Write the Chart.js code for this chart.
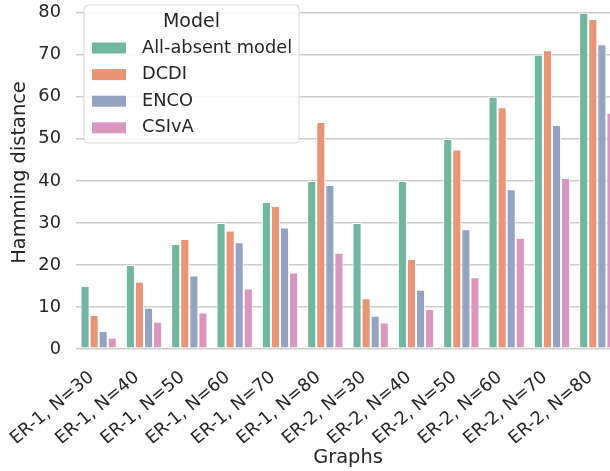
<!DOCTYPE html>
<html>
<head>
<meta charset="utf-8">
<script src="https://cdn.jsdelivr.net/npm/chart.js@4"></script>
<style>
  html, body { margin: 0; padding: 0; background: #fff; overflow: hidden; width: 610px; height: 471px; }
  #wrap { position: absolute; left: 0; top: -4px; width: 620px; height: 475px; }
</style>
</head>
<body>
<div id="wrap"><canvas id="chart"></canvas></div>
<script>
const graphs = ["ER-1, N=30", "ER-1, N=40", "ER-1, N=50", "ER-1, N=60", "ER-1, N=70", "ER-1, N=80",
                "ER-2, N=30", "ER-2, N=40", "ER-2, N=50", "ER-2, N=60", "ER-2, N=70", "ER-2, N=80"];
const allAbsent = [15, 20, 25, 30, 35, 40, 30, 40, 50, 60, 70, 80];
const dcdi = [8.1, 16, 26.2, 28.2, 34, 54, 12.1, 21.4, 47.5, 57.5, 71.1, 78.5];
const enco = [4.3, 9.8, 17.5, 25.4, 28.9, 39, 7.9, 14.1, 28.5, 38, 53.3, 72.5];
const csiva = [2.7, 6.5, 8.7, 14.4, 18.2, 22.9, 6.3, 9.5, 17.1, 26.5, 40.7, 56.2];
const modelNames = ["All-absent model", "DCDI", "ENCO", "CSIvA"];
const yTicks = [0, 10, 20, 30, 40, 50, 60, 70, 80];
const colors = ["#71b6a1", "#e99575", "#95a3c3", "#db96c0"];

const FONT = "'DejaVu Sans', sans-serif";
const TEXT = "#262626";

const legendBox = {
  id: "legendBox",
  afterDraw(chart) {
    const ctx = chart.ctx;
    const a = chart.chartArea;
    const x = a.left + 8, y = a.top + 9, w = 215, h = 138;
    ctx.save();
    ctx.beginPath();
    ctx.roundRect(x, y, w, h, 4);
    ctx.fillStyle = "rgba(255,255,255,0.85)";
    ctx.fill();
    ctx.strokeStyle = "#d6d6d6";
    ctx.lineWidth = 1;
    ctx.stroke();
    ctx.fillStyle = TEXT;
    ctx.font = "19px " + FONT;
    ctx.textAlign = "center";
    ctx.textBaseline = "middle";
    ctx.fillText("Model", x + w / 2, y + 17);
    ctx.textAlign = "left";
    ctx.font = "17.8px " + FONT;
    chart.data.datasets.forEach((ds, i) => {
      const cy = y + 43 + i * 26.6;
      ctx.fillStyle = ds.backgroundColor;
      ctx.fillRect(x + 8, cy - 5.5, 34, 11);
      ctx.fillStyle = TEXT;
      ctx.fillText(ds.label, x + 58, cy);
    });
    ctx.restore();
  }
};

new Chart(document.getElementById("chart"), {
  type: "bar",
  data: {
    labels: graphs,
    datasets: [allAbsent, dcdi, enco, csiva].map((d, i) => ({
      label: modelNames[i],
      data: d,
      backgroundColor: colors[i],
      borderColor: "#ffffff",
      borderWidth: 1,
      borderSkipped: false,
      categoryPercentage: 0.8,
      barPercentage: 1.0
    }))
  },
  options: {
    responsive: true,
    maintainAspectRatio: false,
    animation: false,
    layout: { padding: 0 },
    plugins: { legend: { display: false }, tooltip: { enabled: false } },
    scales: {
      x: {
        grid: { display: false, drawTicks: false },
        border: { display: false },
        ticks: { color: TEXT, font: { family: FONT, size: 17.8 }, minRotation: 40, maxRotation: 40, autoSkip: false, padding: 18, labelOffset: -7 },
        title: { display: true, text: "Graphs", color: TEXT, font: { family: FONT, size: 19.4 }, padding: { top: 0, bottom: 1 } },
        afterFit: s => { s.height = 122; s.paddingLeft = 0; s.paddingRight = 0; }
      },
      y: {
        min: 0,
        max: 84,
        grid: { color: "#cccccc", lineWidth: 1.5, drawTicks: false },
        border: { display: false },
        ticks: { color: TEXT, font: { family: FONT, size: 17.8 }, padding: 15 },
        title: { display: true, text: "Hamming distance", color: TEXT, font: { family: FONT, size: 19.4 }, padding: { top: 8, bottom: 0 } },
        afterBuildTicks: s => { s.ticks = yTicks.map(v => ({ value: v })); },
        afterFit: s => { s.width = 76; s.paddingTop = 0; s.paddingBottom = 0; }
      }
    }
  },
  plugins: [legendBox]
});
</script>
</body>
</html>
